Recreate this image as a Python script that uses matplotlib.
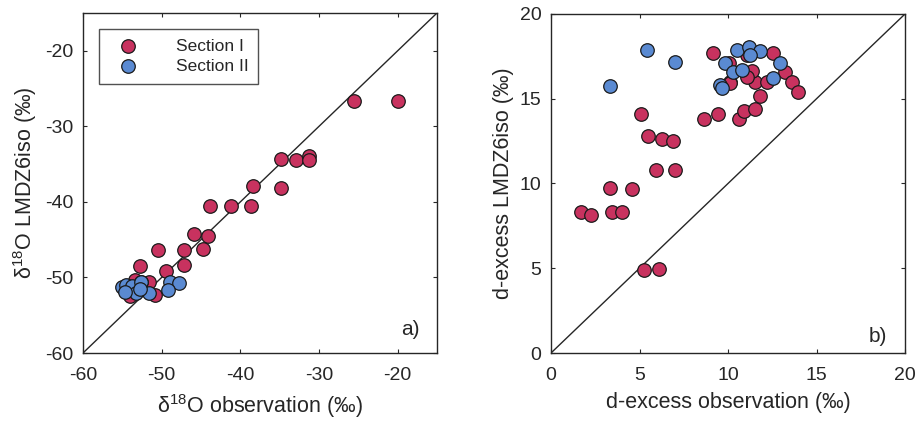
import matplotlib
matplotlib.use("Agg")
import matplotlib.pyplot as plt

plt.rcParams['font.family'] = ['Liberation Sans', 'DejaVu Sans']
plt.rcParams['mathtext.default'] = 'regular'
plt.rcParams['axes.unicode_minus'] = False

# Panel a) d18O
obs_I = [-25.6, -20.0, -34.8, -32.9, -31.3, -31.25, -38.4, -34.8, -43.9, -41.2, -38.7,
         -45.9, -44.1, -50.5, -47.1, -44.8, -47.1, -49.4, -52.7, -50.8, -51.6, -54.0, -53.4, -52.6]
mod_I = [-26.6, -26.6, -34.3, -34.4, -33.9, -34.5, -37.9, -38.1, -40.5, -40.5, -40.5,
         -44.3, -44.5, -46.4, -46.4, -46.3, -48.3, -49.1, -48.5, -52.3, -50.6, -52.5, -50.3, -50.6]
obs_II = [-55.0, -54.5, -53.8, -52.6, -53.3, -51.6, -49.0, -47.8, -49.2, -54.6, -52.8]
mod_II = [-51.3, -51.0, -51.1, -50.6, -52.1, -52.0, -50.6, -50.8, -51.7, -51.9, -51.5]

# Panel b) d-excess
dobs_I = [1.69, 2.26, 3.44, 4.0, 3.35, 4.59, 5.95, 7.02, 5.46, 6.27, 6.89, 5.08, 5.23, 6.12,
          8.66, 9.43, 9.13, 10.6, 10.88, 11.5, 11.82, 10.12, 11.54, 12.2, 11.38, 12.57,
          13.23, 13.6, 13.94, 10.03, 11.07, 11.07, 10.12]
dmod_I = [8.31, 8.17, 8.31, 8.32, 9.76, 9.68, 10.79, 10.77, 12.79, 12.62, 12.51, 14.09, 4.92, 4.98,
          13.81, 14.11, 17.67, 13.8, 14.29, 14.4, 15.15, 16.0, 15.96, 16.0, 16.63, 17.67,
          16.59, 16.0, 15.41, 17.08, 17.57, 16.29, 15.9]
dobs_II = [10.5, 11.21, 11.82, 11.25, 9.84, 10.31, 10.78, 9.56, 9.65, 12.95, 12.57, 5.42, 7.02, 3.35]
dmod_II = [17.87, 18.06, 17.83, 17.57, 17.08, 16.59, 16.69, 15.8, 15.61, 17.08, 16.2, 17.87, 17.14, 15.74]

labels = ['Section I', 'Section II']
lim_a = [-60, -15]
ticks_a = [-60, -50, -40, -30, -20]
lim_b = [0, 20]
ticks_b = [0, 5, 10, 15, 20]

RED = '#C8325F'
BLUE = '#5A8AD2'
TXT = '#262626'

fig = plt.figure(figsize=(9.19, 4.26), dpi=100)
W, H = 919, 426
ax1 = fig.add_axes([83/W, (H-353)/H, 354/W, 340/H])
ax2 = fig.add_axes([551/W, (H-353)/H, 354/W, 339/H])

ms = 95
for ax, lim, ticks, xs1, ys1, xs2, ys2 in [
        (ax1, lim_a, ticks_a, obs_I, mod_I, obs_II, mod_II),
        (ax2, lim_b, ticks_b, dobs_I, dmod_I, dobs_II, dmod_II)]:
    ax.plot(lim, lim, color='#262626', lw=1.0, zorder=1)
    ax.scatter(xs1, ys1, s=ms, c=RED, edgecolors='#1a1a1a', linewidths=0.9, label=labels[0], zorder=2)
    ax.scatter(xs2, ys2, s=ms, c=BLUE, edgecolors='#1a1a1a', linewidths=0.9, label=labels[1], zorder=3)
    ax.set_xlim(lim)
    ax.set_ylim(lim)
    ax.set_xticks(ticks)
    ax.set_yticks(ticks)
    ax.tick_params(direction='in', length=3, width=0.8, top=True, right=True,
                   labelsize=14, colors=TXT, labelcolor=TXT)
    ax.tick_params(axis='x', pad=10)
    ax.tick_params(axis='y', pad=7)
    for sp in ax.spines.values():
        sp.set_color('#262626')
        sp.set_linewidth(1.0)

ax1.set_xlabel(r'δ$^{18}$O observation (‰)', fontsize=15.5, color=TXT, labelpad=6)
ax1.set_ylabel(r'δ$^{18}$O LMDZ6iso (‰)', fontsize=15.5, color=TXT, labelpad=4)
ax2.set_xlabel('d-excess observation (‰)', fontsize=15.5, color=TXT, labelpad=6)
ax2.set_ylabel('d-excess LMDZ6iso (‰)', fontsize=15.5, color=TXT, labelpad=4)

ax1.text(0.924, 0.07, 'a)', transform=ax1.transAxes, ha='center', va='center', fontsize=15, color=TXT)
ax2.text(0.924, 0.05, 'b)', transform=ax2.transAxes, ha='center', va='center', fontsize=15, color=TXT)

leg = ax1.legend(loc='upper left', bbox_to_anchor=(0.045, 0.953), borderaxespad=0,
                 fontsize=12.5, frameon=True, fancybox=False, edgecolor='#262626',
                 handletextpad=1.6, borderpad=0.55, labelspacing=0.3, handlelength=2.3)
leg.get_frame().set_linewidth(1.0)
for t in leg.get_texts():
    t.set_color(TXT)

fig.savefig('out.png', dpi=100)
